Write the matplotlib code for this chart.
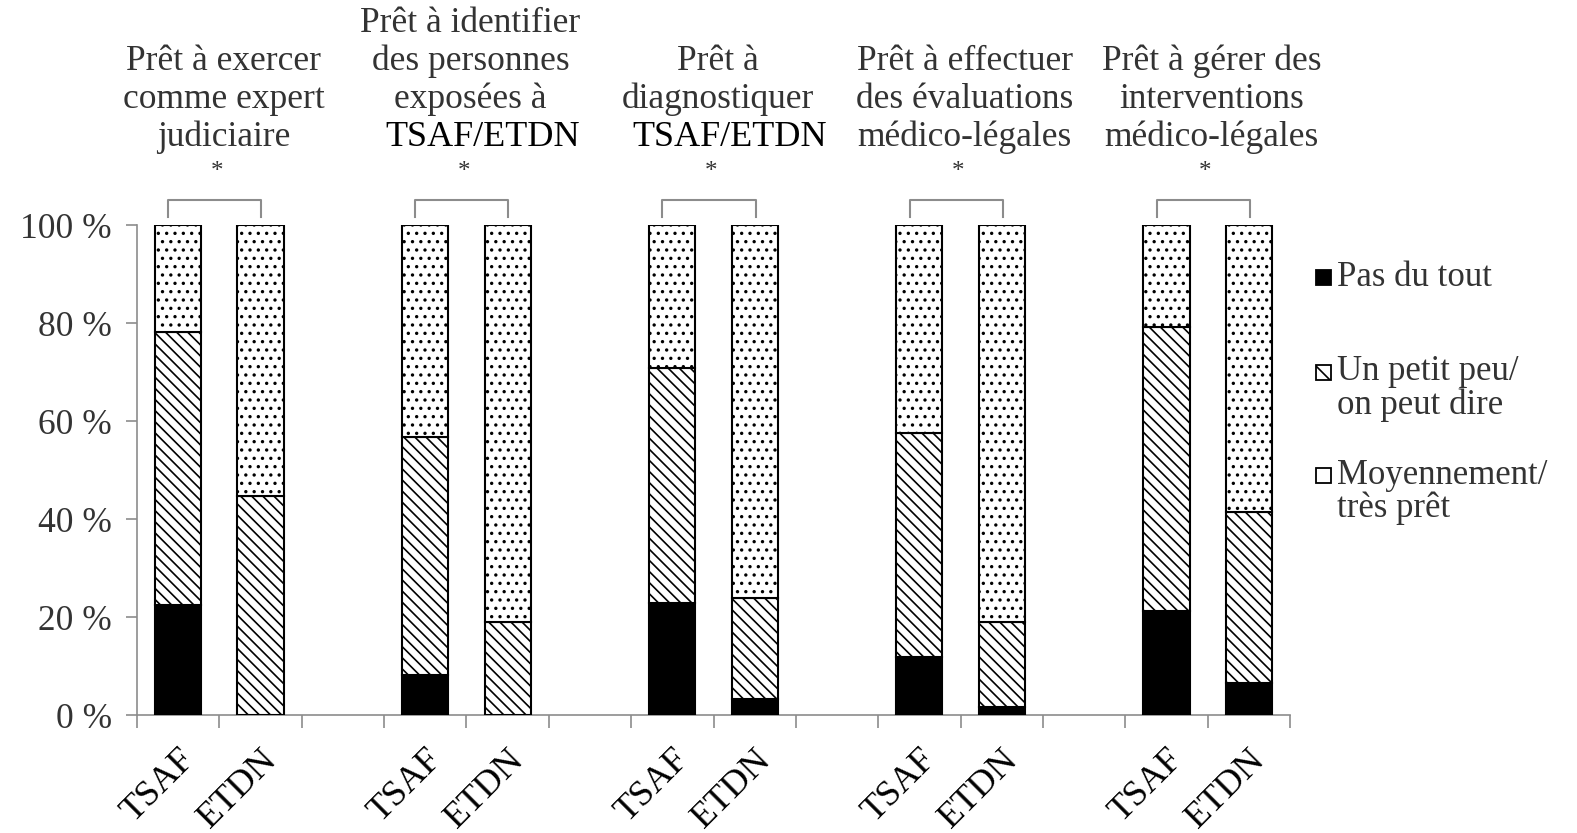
import matplotlib
matplotlib.use('Agg')
import matplotlib.pyplot as plt
from matplotlib.patches import Rectangle
import matplotlib.transforms as mtransforms
import numpy as np

plt.rcParams['font.family'] = ['Liberation Serif', 'DejaVu Serif']
plt.rcParams['hatch.linewidth'] = 1.2

# ---- data ----
group_titles = [
    ["Prêt à exercer", "comme expert", "judiciaire"],
    ["Prêt à identifier", "des personnes", "exposées à", "TSAF/ETDN"],
    ["Prêt à", "diagnostiquer", "TSAF/ETDN"],
    ["Prêt à effectuer", "des évaluations", "médico-légales"],
    ["Prêt à gérer des", "interventions", "médico-légales"],
]
bar_labels = ["TSAF", "ETDN"]
significance = ["*", "*", "*", "*", "*"]
legend_labels = ["Pas du tout", "Un petit peu/\non peut dire", "Moyennement/\ntrès prêt"]

tsaf_pas = [22.4, 8.2, 22.9, 11.8, 21.2]
tsaf_petit = [55.8, 48.5, 47.9, 45.8, 58.0]
etdn_pas = [0.0, 0.0, 3.3, 1.6, 6.5]
etdn_petit = [44.7, 19.0, 20.6, 17.4, 34.9]
tsaf_moyen = [100 - a - b for a, b in zip(tsaf_pas, tsaf_petit)]
etdn_moyen = [100 - a - b for a, b in zip(etdn_pas, etdn_petit)]

yticks = [0, 20, 40, 60, 80, 100]
ytick_labels = ["0 %", "20 %", "40 %", "60 %", "80 %", "100 %"]

# ---- figure ----
W, H = 1577, 833
fig = plt.figure(figsize=(W / 100, H / 100), dpi=100)
ax = fig.add_axes([137 / W, 118 / H, (1290 - 137) / W, (715 - 225) / H])

gray = '#8c8c8c'
textgray = '#333333'
bw = 0.56

pos_t = [3 * g for g in range(5)]
pos_e = [3 * g + 1 for g in range(5)]

hatches = [None, '\\\\\\', '..']
fills = ['black', 'white', 'white']
for pos, layers in [(pos_t, [tsaf_pas, tsaf_petit, tsaf_moyen]),
                    (pos_e, [etdn_pas, etdn_petit, etdn_moyen])]:
    bottom = np.zeros(5)
    for vals, h, fc in zip(layers, hatches, fills):
        ax.bar(pos, vals, bw, bottom=bottom, color=fc, edgecolor='black',
               hatch=h, linewidth=1.5, zorder=3)
        bottom = bottom + np.array(vals)

ax.set_xlim(-0.5, 13.5)
ax.set_ylim(0, 100)
ax.set_yticks(yticks)
ax.set_yticklabels(ytick_labels, fontsize=25.5, color=textgray)
ax.tick_params(axis='y', length=8, width=1.2, color=gray, pad=10, direction='out')

ax.set_xticks(np.arange(-0.5, 14, 1.0))
ax.set_xticklabels([])
ax.tick_params(axis='x', which='major', length=9, width=1.2, color=gray, direction='out')
ax.set_xticks(pos_t + pos_e, minor=True)
ax.set_xticklabels([bar_labels[0]] * 5 + [bar_labels[1]] * 5, minor=True,
                   rotation=45, ha='right', rotation_mode='anchor', fontsize=26)
ax.tick_params(axis='x', which='minor', length=0, pad=20)

for s in ['top', 'right']:
    ax.spines[s].set_visible(False)
for s in ['left', 'bottom']:
    ax.spines[s].set_color(gray)
    ax.spines[s].set_linewidth(1.2)

# ---- brackets, stars, titles ----
blend = mtransforms.blended_transform_factory(ax.transData, fig.transFigure)
for g in range(5):
    l = pos_t[g] - 0.12
    r = pos_e[g] + 0.01
    ax.plot([l, l, r, r], [101.6, 105.1, 105.1, 101.6], color=gray, lw=1.5,
            clip_on=False, zorder=4)
    cx = (pos_t[g] + pos_e[g]) / 2
    ax.text(cx - 0.03, 1 - 172 / H, significance[g], transform=blend, ha='center',
            va='center', fontsize=18, color=textgray)
    lines = group_titles[g]
    n = len(lines)
    for i, line in enumerate(lines):
        ypix = 137 - (n - 1 - i) * 38
        if line == "TSAF/ETDN":
            ax.text(cx + 0.2, 1 - ypix / H, line, transform=blend, ha='center',
                    va='center', fontsize=26, color='black')
        else:
            ax.text(cx + 0.05, 1 - ypix / H, line, transform=blend, ha='center',
                    va='center', fontsize=25.5, color=textgray)

# ---- legend ----
leg_y = [277, 372, 475]
for i, (lab, h, fc) in enumerate(zip(legend_labels, [None, '\\\\', None], fills)):
    y0 = leg_y[i]
    fig.add_artist(Rectangle((1316 / W, 1 - (y0 + 8) / H), 15 / W, 15 / H,
                             transform=fig.transFigure, facecolor=fc,
                             edgecolor='black', hatch=h, linewidth=1.3))
    for j, sub in enumerate(lab.split("\n")):
        fig.text(1337 / W, 1 - (y0 + j * 33) / H, sub, ha='left', va='center',
                 fontsize=25, color=textgray)

fig.savefig('out.png', dpi=100)
